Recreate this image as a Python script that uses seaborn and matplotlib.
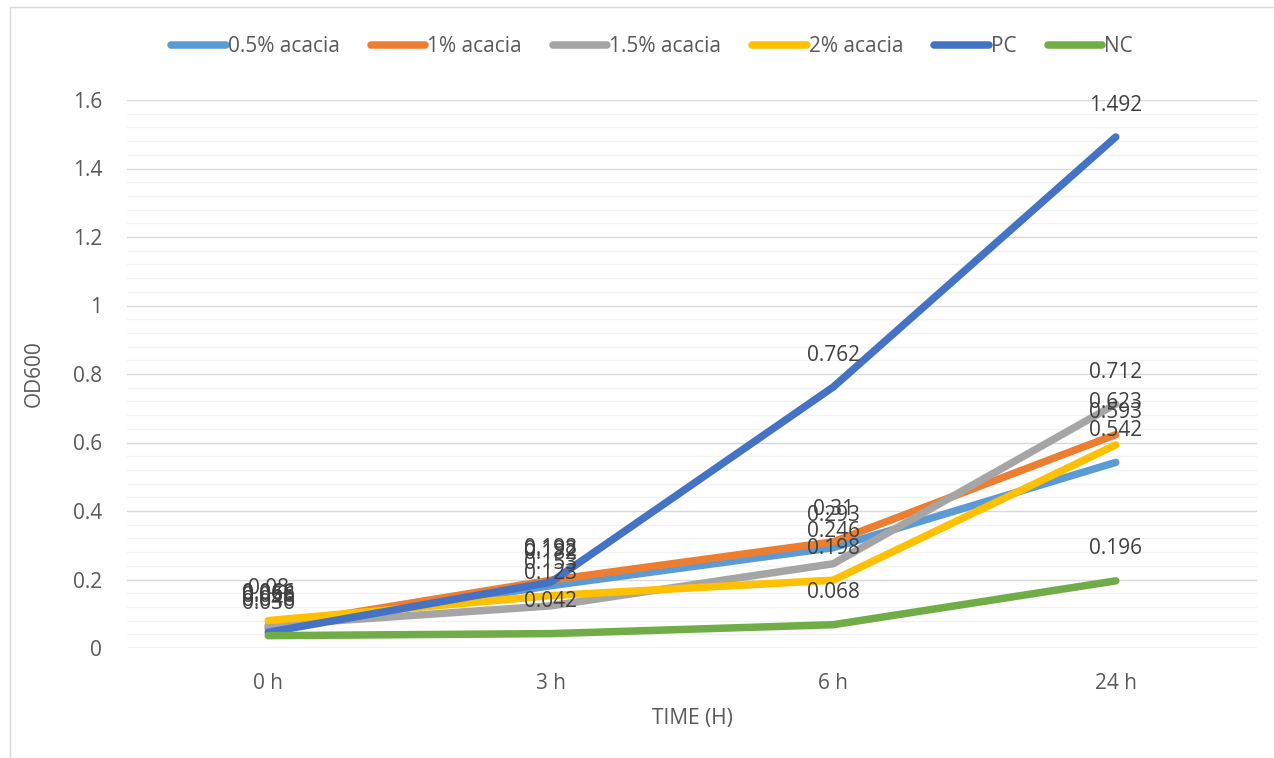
import matplotlib
matplotlib.use("Agg")
import matplotlib.pyplot as plt
from matplotlib.lines import Line2D
from matplotlib.patches import Rectangle
from matplotlib.ticker import MultipleLocator
import pandas as pd
import seaborn as sns

# Sampling times
times = ["0 h", "3 h", "6 h", "24 h"]

# OD600 readings per treatment
acacia_05 = [0.056, 0.182, 0.293, 0.542]
acacia_1 = [0.063, 0.198, 0.31, 0.623]
acacia_15 = [0.066, 0.123, 0.246, 0.712]
acacia_2 = [0.08, 0.153, 0.198, 0.593]
pc = [0.046, 0.192, 0.762, 1.492]
nc = [0.036, 0.042, 0.068, 0.196]

series_names = ["0.5% acacia", "1% acacia", "1.5% acacia", "2% acacia", "PC", "NC"]
series_values = [acacia_05, acacia_1, acacia_15, acacia_2, pc, nc]
colors = ["#5B9BD5", "#ED7D31", "#A5A5A5", "#FFC000", "#4472C4", "#70AD47"]

rows = []
for name, vals in zip(series_names, series_values):
    for t, v in zip(times, vals):
        rows.append({"time": t, "od": v, "series": name})
df = pd.DataFrame(rows)

sns.set_theme(style="white")
plt.rcParams["font.family"] = ["Open Sans", "DejaVu Sans"]
text_color = "#595959"

fig = plt.figure(figsize=(12.74, 7.58), dpi=100)
top_edge = 1 - 7 / 758
fig.patches.append(Rectangle((10 / 1274, -0.1), 1.2, top_edge + 0.1,
                             transform=fig.transFigure, fill=False,
                             edgecolor="#D9D9D9", linewidth=1.0, zorder=0))
ax = fig.add_axes([127 / 1274, 1 - 648 / 758, 1130 / 1274, 548 / 758])

sns.lineplot(data=df, x="time", y="od", hue="series", hue_order=series_names,
             palette=colors, sort=False, linewidth=5.4, ax=ax, legend=False,
             solid_capstyle="round", solid_joinstyle="round")

# Data labels above each point
for name, vals in zip(series_names, series_values):
    for i, v in enumerate(vals):
        ax.annotate(f"{v:g}", (i, v), xytext=(0, 23), textcoords="offset points",
                    ha="center", va="center", fontsize=15, color="#404040")

ax.set_xlim(-0.5, 3.5)
ax.set_ylim(0, 1.6)
ax.yaxis.set_minor_locator(MultipleLocator(0.04))
ax.set_yticks([0, 0.2, 0.4, 0.6, 0.8, 1.0, 1.2, 1.4, 1.6])
ax.set_yticklabels(["0", "0.2", "0.4", "0.6", "0.8", "1", "1.2", "1.4", "1.6"])
ax.grid(which="major", axis="y", color="#D9D9D9", linewidth=1.0)
ax.grid(which="minor", axis="y", color="#F2F2F2", linewidth=1.0)
ax.set_axisbelow(True)
for s in ax.spines.values():
    s.set_visible(False)
ax.axhline(0, color="#D9D9D9", linewidth=1.0, zorder=0.5)
ax.tick_params(axis="both", length=0, labelcolor=text_color)
ax.tick_params(axis="x", pad=18, labelsize=15)
ax.tick_params(axis="y", pad=18, labelsize=15)

ax.set_xlabel("TIME (H)", fontsize=15, color=text_color, labelpad=10)
ax.set_ylabel("OD600", fontsize=15, color=text_color, labelpad=20)

handles = [Line2D([0], [0], color=c, linewidth=5.4, solid_capstyle="round")
           for c in colors]
fig.legend(handles, series_names, loc="center", bbox_to_anchor=(652 / 1274, 1 - 47 / 758),
           ncol=6, frameon=False, fontsize=15, handlelength=2.6, handletextpad=0.1,
           columnspacing=1.5, labelcolor=text_color)

fig.savefig("out.png", dpi=100)
